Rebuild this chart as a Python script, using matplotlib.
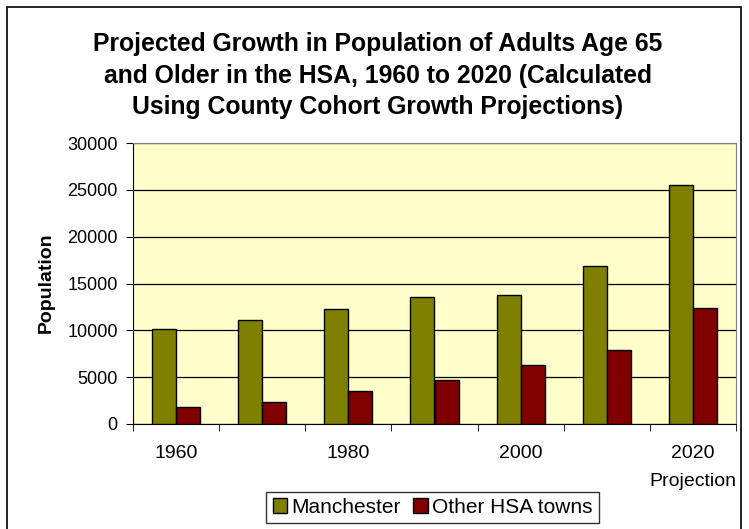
import matplotlib
matplotlib.use("Agg")
import matplotlib.pyplot as plt
from matplotlib.patches import Rectangle
import numpy as np

plt.rcParams['font.family'] = ['Liberation Sans', 'DejaVu Sans']

years = ["1960", "1970", "1980", "1990", "2000", "2010", "2020"]
manchester = [10100, 11100, 12250, 13600, 13800, 16900, 25500]
other_hsa = [1850, 2300, 3500, 4650, 6300, 7950, 12400]
series_names = ["Manchester", "Other HSA towns"]
tick_positions = [0, 2, 4, 6]
tick_labels = ["1960", "1980", "2000", "2020\nProjection"]
yticks = [0, 5000, 10000, 15000, 20000, 25000, 30000]
title = ("Projected Growth in Population of Adults Age 65\n"
         "and Older in the HSA, 1960 to 2020 (Calculated\n"
         "Using County Cohort Growth Projections)")

W, H = 749, 529
fig = plt.figure(figsize=(W / 100, H / 100), dpi=100)
fig.patch.set_facecolor("white")

# outer border
fig.patches.append(Rectangle((7 / W, -0.02), (741 - 7) / W, 1 - 7 / H + 0.02,
                             transform=fig.transFigure, fill=False,
                             edgecolor="black", linewidth=1.2))

l, r, t, b = 133, 736, 143, 424
ax = fig.add_axes([l / W, 1 - b / H, (r - l) / W, (b - t) / H])
ax.set_facecolor("#FFFFCC")

x = np.arange(len(years))
w = 0.28
ax.bar(x - w / 2, manchester, width=w, color="#808000", edgecolor="black",
       linewidth=1, label=series_names[0], zorder=3)
ax.bar(x + w / 2, other_hsa, width=w, color="#800000", edgecolor="black",
       linewidth=1, label=series_names[1], zorder=3)

ax.set_xlim(-0.5, len(years) - 0.5)
ax.set_ylim(0, 30000)
ax.set_yticks(yticks)
ax.set_yticklabels([str(v) for v in yticks], fontsize=13)
ax.yaxis.grid(True, color="black", linewidth=0.9, zorder=1)
ax.set_axisbelow(True)

ax.set_xticks(tick_positions)
ax.set_xticklabels(tick_labels, fontsize=14, linespacing=1.85)
ax.set_xticks(np.arange(-0.5, len(years)), minor=True)
ax.tick_params(axis="x", which="major", length=0, pad=15)
ax.tick_params(axis="x", which="minor", length=5, direction="out", color="black")
ax.tick_params(axis="y", length=5, direction="out", pad=6)

for s in ["top", "right"]:
    ax.spines[s].set_color("#808080")
for s in ["left", "bottom"]:
    ax.spines[s].set_color("black")

fig.text(378 / W, 1 - 75.5 / H, title, ha="center", va="center",
         fontsize=17.8, fontweight="bold", linespacing=1.42)

fig.text(46 / W, 1 - 283 / H, "Population", rotation=90, ha="center",
         va="center", fontsize=14, fontweight="bold")

leg = fig.legend(loc="center", bbox_to_anchor=(432.5 / W, 1 - 507.5 / H),
                 ncol=2, fontsize=15, frameon=True, fancybox=False,
                 handlelength=0.7, handleheight=0.7, handletextpad=0.2,
                 columnspacing=0.6, borderpad=0.3)
leg.get_frame().set_edgecolor("black")
leg.get_frame().set_linewidth(1)

fig.savefig("out.png", dpi=100)
